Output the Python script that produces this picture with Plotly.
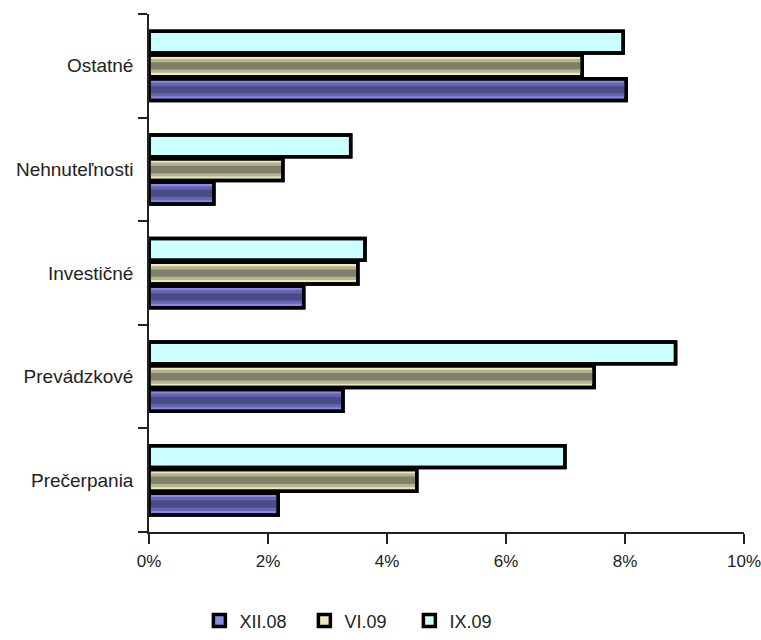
import plotly.graph_objects as go

# Categories (bottom to top) and series values in percent
categories = ["Prečerpania", "Prevádzkové", "Investičné", "Nehnuteľnosti", "Ostatné"]
series_names = ["XII.08", "VI.09", "IX.09"]
xii_08 = [2.17, 3.26, 2.60, 1.09, 8.02]
vi_09 = [4.50, 7.48, 3.51, 2.25, 7.28]
ix_09 = [6.99, 8.85, 3.63, 3.39, 7.97]
x_ticks = [0, 2, 4, 6, 8, 10]
x_tick_labels = ["0%", "2%", "4%", "6%", "8%", "10%"]

series_values = [xii_08, vi_09, ix_09]

# Shading layers per series: (base, mid, dark) colours giving a cylinder-like look
shades = [
    ("#8a8ae6", "#6565b4", "#4b4b85"),
    ("#ecebb8", "#b4b392", "#80806a"),
    ("#ccffff", "#ccffff", "#ccffff"),
]

FONT = "Liberation Sans, Arial, sans-serif"
bar_w = 0.21
pitch = 0.229
first_offset = -0.335

fig = go.Figure()
for i, (name, vals) in enumerate(zip(series_names, series_values)):
    off = first_offset + i * pitch
    base, mid, dark = shades[i]
    # base fill (also used for the legend swatch)
    fig.add_trace(go.Bar(
        name=name, y=categories, x=vals, orientation="h",
        offset=off, width=bar_w,
        marker=dict(color=base, line=dict(color="black", width=3.5)),
        legendrank=i, hoverinfo="x+name",
    ))
    if mid != base:
        # inner shading bands
        fig.add_trace(go.Bar(
            y=categories, x=vals, orientation="h",
            offset=off + bar_w * 0.18, width=bar_w * 0.64,
            marker=dict(color=mid, line=dict(width=0)),
            showlegend=False, hoverinfo="skip",
        ))
        fig.add_trace(go.Bar(
            y=categories, x=vals, orientation="h",
            offset=off + bar_w * 0.33, width=bar_w * 0.34,
            marker=dict(color=dark, line=dict(width=0)),
            showlegend=False, hoverinfo="skip",
        ))
    # outline on top of the shading
    fig.add_trace(go.Bar(
        y=categories, x=vals, orientation="h",
        offset=off, width=bar_w,
        marker=dict(color="rgba(0,0,0,0)", line=dict(color="black", width=3.5)),
        showlegend=False, hoverinfo="skip",
    ))

fig.update_layout(
    width=761, height=640,
    margin=dict(l=149, r=17, t=14, b=108, autoexpand=False),
    paper_bgcolor="white", plot_bgcolor="white",
    barmode="overlay",
    font=dict(family=FONT, size=17, color="#222222"),
    showlegend=True,
    legend=dict(
        orientation="h", xref="container", x=0.262, xanchor="left",
        yref="container", y=0.03, yanchor="middle",
        entrywidth=60, entrywidthmode="pixels",
        font=dict(family=FONT, size=18, color="#222222"),
        traceorder="normal", itemwidth=30,
    ),
    xaxis=dict(
        range=[0, 10.0001], tickvals=x_ticks, ticktext=x_tick_labels,
        showgrid=False, zeroline=False,
        showline=True, linecolor="#222222", linewidth=1.5,
        ticks="outside", ticklen=10, tickwidth=1.5, tickcolor="#222222",
        ticklabelstandoff=3, ticklabeloverflow="allow",
        tickfont=dict(size=17), automargin=False,
    ),
    yaxis=dict(
        type="category", categoryorder="array", categoryarray=categories,
        range=[-0.5, 4.5],
        showgrid=False, zeroline=False,
        showline=True, linecolor="#222222", linewidth=1.5,
        ticks="outside", ticklen=9, tickwidth=1.5, tickcolor="#222222",
        tickson="boundaries", ticklabelstandoff=10,
        tickfont=dict(size=19), automargin=False,
    ),
)

fig.write_html("out.html")
